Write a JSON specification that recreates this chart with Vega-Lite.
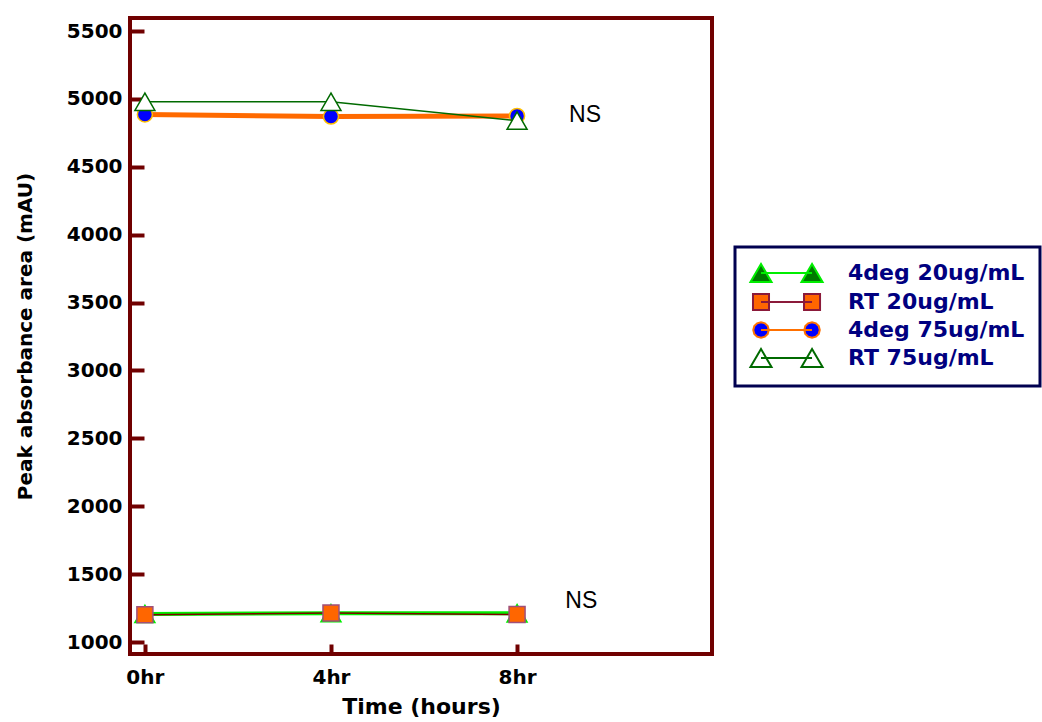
{
  "$schema": "https://vega.github.io/schema/vega-lite/v6.json",
  "width": 582,
  "height": 636,
  "autosize": {"type": "none"},
  "padding": {"left": 130, "top": 18, "right": 330, "bottom": 68},
  "background": "white",
  "datasets": {
    "main": [
      {"series": "4deg 20ug/mL", "hour": 0, "area": 1207},
      {"series": "4deg 20ug/mL", "hour": 4, "area": 1213},
      {"series": "4deg 20ug/mL", "hour": 8, "area": 1212},
      {"series": "RT 20ug/mL", "hour": 0, "area": 1201},
      {"series": "RT 20ug/mL", "hour": 4, "area": 1214},
      {"series": "RT 20ug/mL", "hour": 8, "area": 1203},
      {"series": "4deg 75ug/mL", "hour": 0, "area": 4886},
      {"series": "4deg 75ug/mL", "hour": 4, "area": 4870},
      {"series": "4deg 75ug/mL", "hour": 8, "area": 4875},
      {"series": "RT 75ug/mL", "hour": 0, "area": 4979},
      {"series": "RT 75ug/mL", "hour": 4, "area": 4979},
      {"series": "RT 75ug/mL", "hour": 8, "area": 4840}
    ],
    "notes": [
      {"hour": 9.46, "area": 4881, "text": "NS"},
      {"hour": 9.38, "area": 1302, "text": "NS"}
    ]
  },
  "data": {"name": "main"},
  "encoding": {
    "x": {
      "field": "hour",
      "type": "quantitative",
      "scale": {"domain": [-0.32, 12.19], "nice": false, "zero": false},
      "axis": {
        "title": "Time (hours)",
        "values": [0, 4, 8],
        "labelExpr": "datum.value + 'hr'",
        "tickSize": -10,
        "labelPadding": 23,
        "titlePadding": 9,
        "titleFontSize": 22
      }
    },
    "y": {
      "field": "area",
      "type": "quantitative",
      "scale": {"domain": [912, 5596], "nice": false, "zero": false},
      "axis": {
        "title": "Peak absorbance area (mAU)",
        "values": [1000, 1500, 2000, 2500, 3000, 3500, 4000, 4500, 5000, 5500],
        "format": "d",
        "tickSize": -14,
        "labelPadding": 22,
        "titlePadding": 31
      }
    }
  },
  "layer": [
    {
      "transform": [{"filter": {"field": "series", "equal": "4deg 20ug/mL"}}],
      "layer": [
        {"mark": {"type": "line", "color": "#00ee00", "strokeWidth": 4}},
        {"mark": {"type": "point", "shape": "triangle-up", "size": 400, "filled": true, "fill": "#007a00", "stroke": "#00ee00", "strokeWidth": 1.5, "opacity": 1}}
      ]
    },
    {
      "transform": [{"filter": {"field": "series", "equal": "RT 20ug/mL"}}],
      "layer": [
        {"mark": {"type": "line", "color": "#800000", "strokeWidth": 1.5}},
        {"mark": {"type": "point", "shape": "square", "size": 256, "filled": true, "fill": "#ff6600", "stroke": "#a0507a", "strokeWidth": 1.5, "opacity": 1}}
      ]
    },
    {
      "transform": [{"filter": {"field": "series", "equal": "4deg 75ug/mL"}}],
      "layer": [
        {"mark": {"type": "line", "color": "#ff6a00", "strokeWidth": 5}},
        {"mark": {"type": "point", "shape": "circle", "size": 225, "filled": true, "fill": "#0000ff", "stroke": "#ffc000", "strokeWidth": 1.5, "opacity": 1}}
      ]
    },
    {
      "transform": [{"filter": {"field": "series", "equal": "RT 75ug/mL"}}],
      "layer": [
        {"mark": {"type": "line", "color": "#006a00", "strokeWidth": 1.5}},
        {"mark": {"type": "point", "shape": "triangle-up", "size": 400, "filled": true, "fill": "#ffffff", "stroke": "#006a00", "strokeWidth": 1.5, "opacity": 1}}
      ]
    },
    {
      "mark": {"type": "point", "filled": true, "opacity": 0},
      "encoding": {
        "shape": {
          "field": "series",
          "type": "nominal",
          "scale": {
            "domain": ["4deg 20ug/mL", "RT 20ug/mL", "4deg 75ug/mL", "RT 75ug/mL"],
            "range": [
              "M0,0L5.67,0M-1.17,1L1.17,1L0,-1ZM4.5,1L6.84,1L5.67,-1Z",
              "M0,0L5.67,0M-0.89,-0.89L0.89,-0.89L0.89,0.89L-0.89,0.89ZM4.78,-0.89L6.56,-0.89L6.56,0.89L4.78,0.89Z",
              "M0,0L5.67,0M0.86,0L0.745,0.43L0.43,0.745L0,0.86L-0.43,0.745L-0.745,0.43L-0.86,0L-0.745,-0.43L-0.43,-0.745L0,-0.86L0.43,-0.745L0.745,-0.43ZM6.53,0L6.415,0.43L6.1,0.745L5.67,0.86L5.24,0.745L4.925,0.43L4.81,0L4.925,-0.43L5.24,-0.745L5.67,-0.86L6.1,-0.745L6.415,-0.43Z",
              "M0,0L5.67,0M-1.17,1L1.17,1L0,-1ZM4.5,1L6.84,1L5.67,-1Z"
            ]
          },
          "legend": {
            "title": null,
            "orient": "none",
            "legendX": 605,
            "legendY": 229,
            "symbolSize": 324,
            "symbolStrokeWidth": 2,
            "symbolOpacity": 1,
            "labelOffset": 76,
            "labelFont": "DejaVu Sans",
            "labelFontWeight": "bold",
            "labelFontSize": 22,
            "labelColor": "#000080",
            "labelLimit": 400,
            "rowPadding": 3,
            "padding": 15,
            "strokeColor": "#000050",
            "fillColor": "white"
          }
        },
        "fill": {
          "field": "series",
          "type": "nominal",
          "scale": {
            "domain": ["4deg 20ug/mL", "RT 20ug/mL", "4deg 75ug/mL", "RT 75ug/mL"],
            "range": ["#007a00", "#ff6600", "#0000ff", "#ffffff"]
          }
        },
        "stroke": {
          "field": "series",
          "type": "nominal",
          "scale": {
            "domain": ["4deg 20ug/mL", "RT 20ug/mL", "4deg 75ug/mL", "RT 75ug/mL"],
            "range": ["#00ee00", "#8b1a3a", "#ff7000", "#006a00"]
          }
        }
      }
    },
    {
      "data": {"name": "notes"},
      "mark": {"type": "text", "font": "Liberation Sans", "fontSize": 23, "align": "center", "baseline": "middle", "color": "#000"},
      "encoding": {"text": {"field": "text"}}
    }
  ],
  "config": {
    "view": {"stroke": "#700000", "strokeWidth": 4},
    "axis": {
      "domain": false,
      "grid": false,
      "labelFont": "DejaVu Sans",
      "labelFontWeight": "bold",
      "labelFontSize": 20,
      "labelColor": "#000",
      "tickColor": "#700000",
      "tickWidth": 4,
      "titleFont": "DejaVu Sans",
      "titleFontWeight": "bold",
      "titleFontSize": 20,
      "titleColor": "#000"
    },
    "legend": {"strokeWidth": 3}
  }
}
